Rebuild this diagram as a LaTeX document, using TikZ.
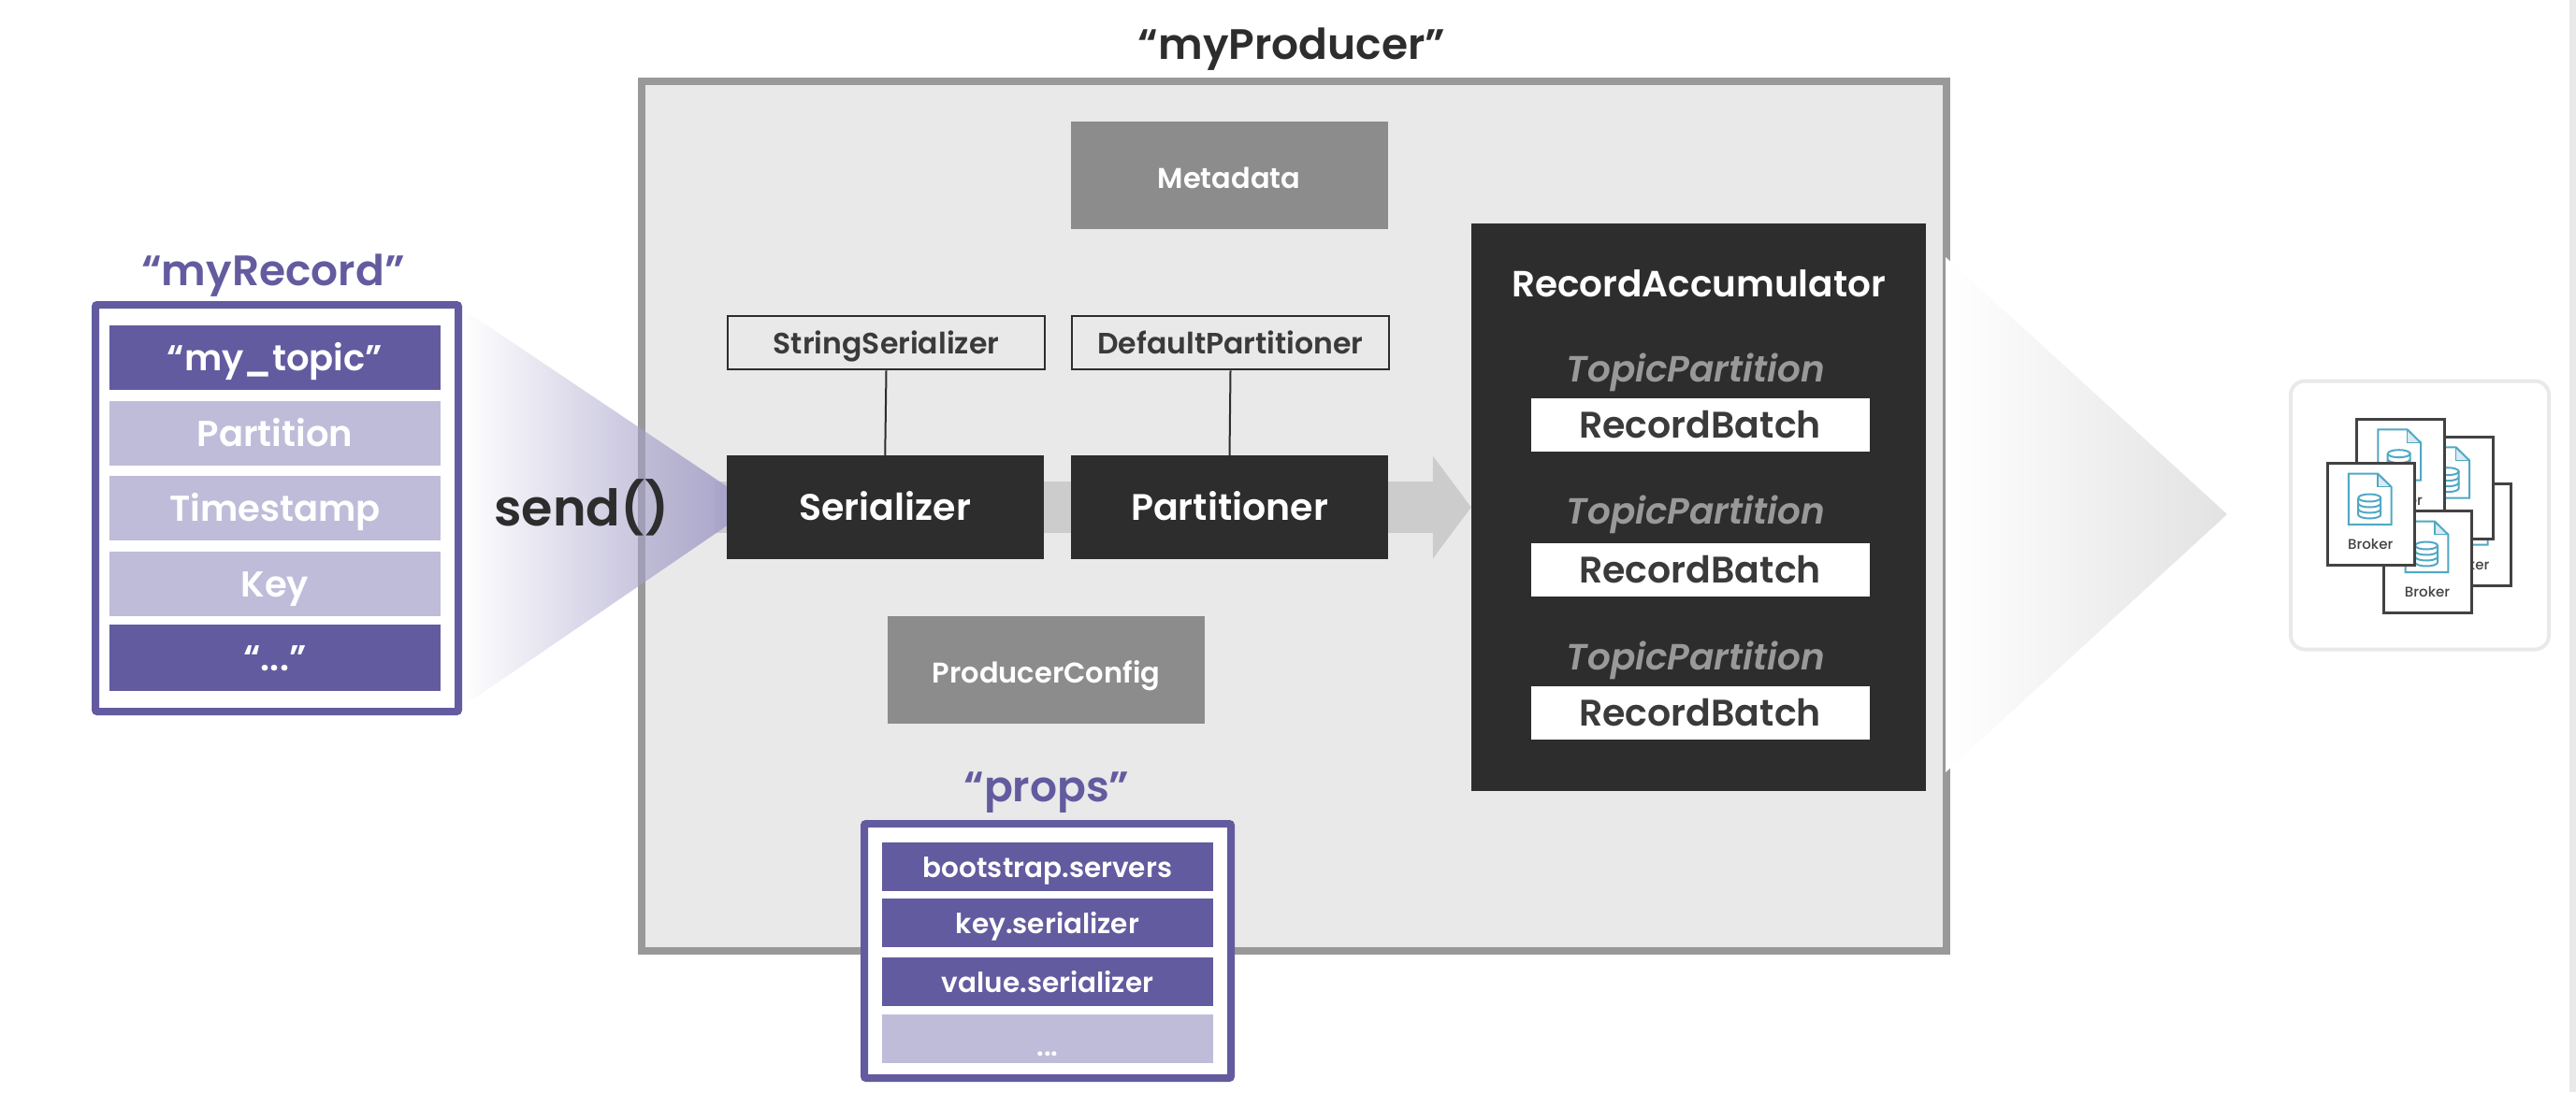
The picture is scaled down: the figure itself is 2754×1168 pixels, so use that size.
\documentclass[tikz,border=0pt]{standalone}
\usepackage{fontspec}
\setmainfont{Poppins}[UprightFont=* Medium, ItalicFont=* Medium Italic, BoldFont=* SemiBold, BoldItalicFont=* SemiBold Italic]
\usetikzlibrary{arrows.meta,backgrounds,fadings}

\definecolor{PurpleDark}{HTML}{635B9F}
\definecolor{PurpleLight}{HTML}{BFBCDA}
\definecolor{PurpleFade}{HTML}{A5A0C9}
\definecolor{PanelGray}{HTML}{E9E9E9}
\definecolor{PanelEdge}{HTML}{999999}
\definecolor{BoxDark}{HTML}{2D2D2D}
\definecolor{BoxMid}{HTML}{8C8C8C}
\definecolor{BandGray}{HTML}{CCCCCC}
\definecolor{DocBlue}{HTML}{4FA8C4}
\definecolor{DocFold}{HTML}{D9EAF0}
\definecolor{TextDark}{HTML}{3A3A3A}

\newcommand{\fsz}[1]{\fontsize{#1}{#1}\selectfont}

\tikzfading[name=fadefromleft, left color=transparent!100, middle color=transparent!58, right color=transparent!0]

\tikzset{
  BlockStyle/.style = {
    shape = rectangle,
    inner sep = 0pt,
    text depth = 0pt,
    align = center},
  RowDark/.style = {BlockStyle, fill = PurpleDark, text = white, minimum width = 354pt, text height = 27.5pt, font = \fsz{38.5}\bfseries},
  RowLight/.style = {RowDark, fill = PurpleLight},
  PropDark/.style = {BlockStyle, fill = PurpleDark, text = white, minimum width = 354pt, minimum height = 52pt, text height = 23pt, font = \fsz{29.5}\bfseries},
  PropLight/.style = {PropDark, fill = PurpleLight},
  FrameStyle/.style = {shape = rectangle, draw = PurpleDark, fill = white, line width = 8pt, rounded corners = 2pt, inner sep = 0pt},
  LabelStyle/.style = {inner sep = 0pt, anchor = base},
  HelperStyle/.style = {BlockStyle, draw = BoxDark, line width = 2.5pt, fill = PanelGray, text = TextDark, minimum width = 339pt, minimum height = 57pt, text height = 24pt, font = \fsz{31.5}\bfseries},
  CoreStyle/.style = {BlockStyle, fill = BoxDark, text = white, minimum width = 339pt, minimum height = 111pt, text height = 28.5pt, font = \fsz{39.5}\bfseries},
  ConfigStyle/.style = {BlockStyle, fill = BoxMid, text = white, minimum width = 339pt, minimum height = 115pt, text height = 28pt, font = \fsz{30.5}\bfseries},
  BatchStyle/.style = {BlockStyle, fill = white, text = TextDark, minimum width = 362pt, minimum height = 57pt, text height = 28pt, font = \fsz{39.5}\bfseries},
  brokercard/.pic = {
    \node[draw = BoxDark!90, line width = 3pt, fill = white, minimum width = 93.5pt, minimum height = 109pt, inner sep = 0pt, outer sep = 0pt, anchor = north west] (-card) at (0,0) {};
    % document outline
    \fill[DocFold] (54.2,11.2) -- (68.5,25.2) -- (54.2,25.2) -- cycle;
    \draw[DocBlue, line width = 2pt] (22.8,65.5) -- (22.8,11.2) -- (54.2,11.2) -- (68.5,25.2) -- (68.5,65.5) -- cycle;
    \draw[DocBlue, line width = 1.5pt] (54.2,11.2) -- (54.2,25.2) -- (68.5,25.2);
    % database
    \draw[DocBlue, line width = 2pt] (33.2,37) arc[start angle = 180, end angle = -180, x radius = 12pt, y radius = 4pt];
    \draw[DocBlue, line width = 2pt] (33.2,37) -- (33.2,55) arc[start angle = 180, end angle = 360, x radius = 12pt, y radius = 4pt] -- (57.2,37);
    \draw[DocBlue, line width = 2pt] (33.2,43) arc[start angle = 180, end angle = 360, x radius = 12pt, y radius = 4pt];
    \draw[DocBlue, line width = 2pt] (33.2,49) arc[start angle = 180, end angle = 360, x radius = 12pt, y radius = 4pt];
    \node[LabelStyle, text = BoxDark!90, font = \fsz{15}] (-label) at (46.2,92) {Broker};
  }
}

\begin{document}
\begin{tikzpicture}[x=1pt, y=-1pt]
\useasboundingbox (0,0) rectangle (2754,1168);

% the producer
\node[LabelStyle, text = BoxDark, font = \fsz{45.5}\bfseries] (ProducerLabel) at (1381,63) {“myProducer”};

\node[ConfigStyle] (Metadata) at (1314,187) {Metadata};
\node[ConfigStyle] (ProducerConfig) at (1118.5,716.5) {ProducerConfig};

\node[HelperStyle] (StringSerializer) at (947.5,366.5) {StringSerializer};
\node[HelperStyle] (DefaultPartitioner) at (1315.5,366.5) {DefaultPartitioner};
\node[CoreStyle] (Serializer) at (946.25,542.5) {Serializer};
\node[CoreStyle] (Partitioner) at (1314.5,542.5) {Partitioner};

\draw[BoxDark, line width = 2pt] (StringSerializer.south) -- (Serializer.north);
\draw[BoxDark, line width = 2pt] (DefaultPartitioner.south) -- (Partitioner.north);

% the accumulator
\node[shape = rectangle, fill = BoxDark, minimum width = 486pt, minimum height = 607pt, inner sep = 0pt] (Accumulator) at (1816,542.5) {};
\node[LabelStyle, text = white, font = \fsz{39}\bfseries] (AccumulatorLabel) at (1816,317) {RecordAccumulator};
\node[LabelStyle, text = PanelEdge, font = \fsz{39}\bfseries\itshape] (Topic1) at (1813,408) {TopicPartition};
\node[BatchStyle] (Batch1) at (1817.5,454) {RecordBatch};
\node[LabelStyle, text = PanelEdge, font = \fsz{39}\bfseries\itshape] (Topic2) at (1813,560) {TopicPartition};
\node[BatchStyle] (Batch2) at (1817.5,609.5) {RecordBatch};
\node[LabelStyle, text = PanelEdge, font = \fsz{39}\bfseries\itshape] (Topic3) at (1813,716) {TopicPartition};
\node[BatchStyle] (Batch3) at (1817.5,762) {RecordBatch};

% behind the boxes
\begin{scope}[on background layer]
\node[shape = rectangle, draw = PanelEdge, fill = PanelGray, line width = 8pt, minimum width = 1395pt, minimum height = 930pt, inner sep = 0pt] (Producer) at (1383.5,552) {};
\draw[BandGray, line width = 55pt, -{Triangle[length=41pt,width=108pt]}] ([xshift=-13pt]Serializer.west) -- (Accumulator.west);
\coordinate (FadeTop) at (494,330);
\coordinate (FadeBottom) at (494,756);
\coordinate (FadeTip) at (808,541);
\fill[PurpleFade, path fading = fadefromleft] (FadeTop) -- (FadeTip) -- (FadeBottom) -- cycle;
\coordinate (FadeUp) at (2080,275);
\coordinate (FadeDown) at (2080,826);
\coordinate (FadeEnd) at (2381,550);
\shade[left color = white, middle color = PanelGray!97!black, right color = PanelGray!97!black] (FadeUp) -- (FadeEnd) -- (FadeDown) -- cycle;
\end{scope}

% the record
\node[FrameStyle, minimum width = 388pt, minimum height = 435pt] (RecordFrame) at (296,543.5) {};
\node[LabelStyle, text = PurpleDark, font = \fsz{45.5}\bfseries] (RecordLabel) at (292,305) {“myRecord”};
\node[RowDark, minimum height = 69pt] (Topic) at (294,382.5) {“my\_topic”};
\node[RowLight, minimum height = 69pt] (Partition) at (294,463.5) {Partition};
\node[RowLight, minimum height = 69pt] (Timestamp) at (294,543.5) {Timestamp};
\node[RowLight, minimum height = 69pt] (Key) at (294,624.5) {Key};
\node[RowDark, minimum height = 71pt] (Etc) at (294,703.5) {“...”};
\node[LabelStyle, text = BoxDark, font = \fsz{54}\bfseries] (Send) at (622,562) {send()};

% the properties
\node[FrameStyle, minimum width = 392pt, minimum height = 272pt] (PropsFrame) at (1120,1017) {};
\node[LabelStyle, text = PurpleDark, font = \fsz{45.5}\bfseries] (PropsLabel) at (1119,857) {“props”};
\node[PropDark] (Servers) at (1120,926.5) {bootstrap.servers};
\node[PropDark] (KeySer) at (1120,987) {key.serializer};
\node[PropDark] (ValueSer) at (1120,1050) {value.serializer};
\node[PropLight] (More) at (1120,1111) {\raisebox{-7pt}{...}};

% the brokers
\node[shape = rectangle, draw = PanelGray, fill = white, line width = 4pt, rounded corners = 15pt, minimum width = 276pt, minimum height = 287pt, inner sep = 0pt] (Cluster) at (2587,551) {};
\pic (BrokerD) at (2591,517.2) {brokercard};
\pic (BrokerC) at (2571.5,467.2) {brokercard};
\pic (BrokerB) at (2519.5,448.2) {brokercard};
\pic (BrokerE) at (2548.8,546.5) {brokercard};
\pic (BrokerA) at (2488,495.5) {brokercard};

\fill[PanelGray] (2747,0) rectangle (2754,1168);
\end{tikzpicture}
\end{document}
